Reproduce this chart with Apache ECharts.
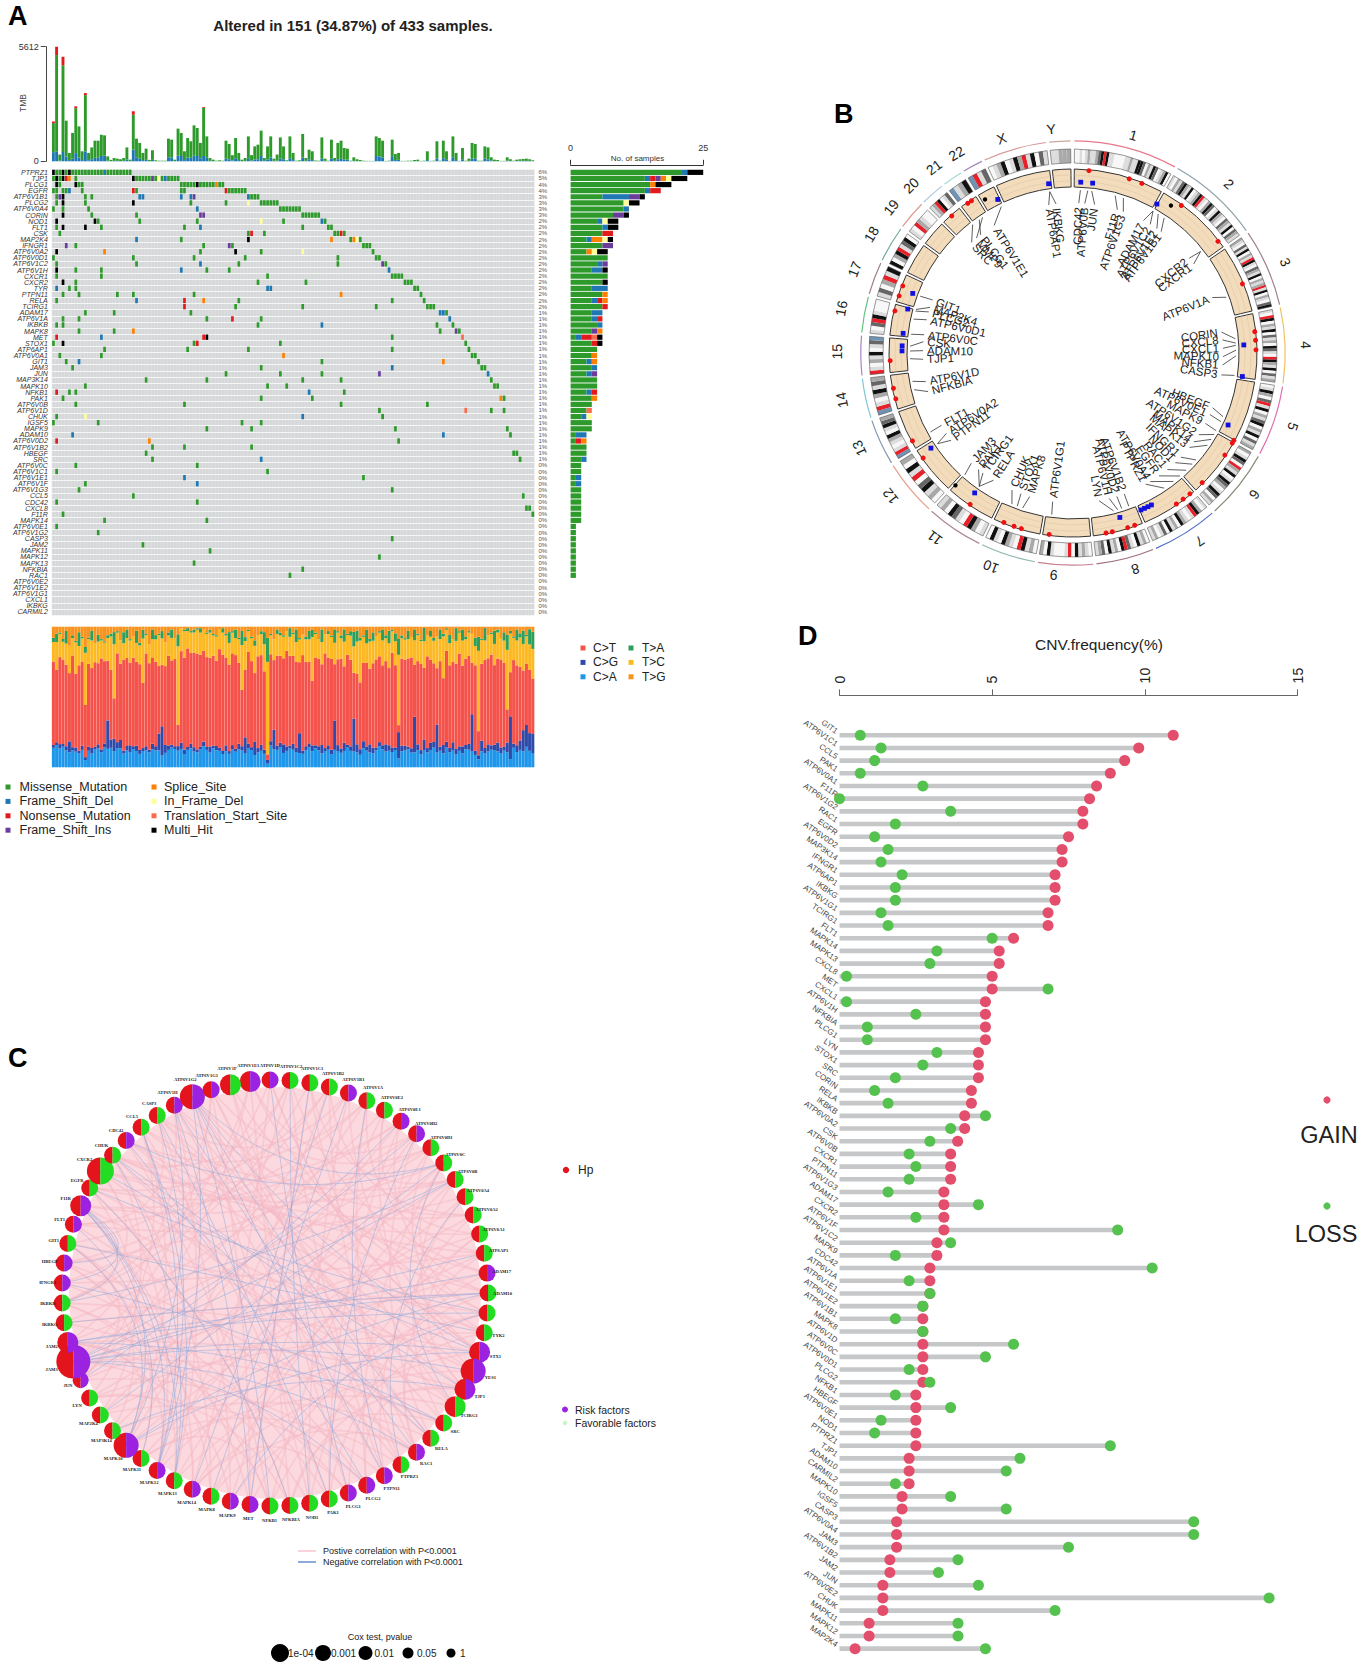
<!DOCTYPE html>
<html>
<head>
<meta charset="utf-8">
<title>Figure</title>
<script src="https://cdn.jsdelivr.net/npm/echarts@6/dist/echarts.min.js"></script>
<style>html,body{margin:0;padding:0;background:#fff}#main{width:1362px;height:1662px}</style>
</head>
<body>
<div id="main"></div>
<script>
// ---------- panel A data ----------
var mutTypes = ['M', 'D', 'N', 'I', 'S', 'F', 'T', 'H'];
var mutNames = ['Missense_Mutation', 'Frame_Shift_Del', 'Nonsense_Mutation', 'Frame_Shift_Ins', 'Splice_Site', 'In_Frame_Del', 'Translation_Start_Site', 'Multi_Hit'];
var mutColors = ['#2f9a2c', '#1f78b4', '#e31a1c', '#6a3d9a', '#ff7f00', '#ffff99', '#fb6a4a', '#000000'];

var tmbTotal = [1870,5200,330,4700,1990,410,1390,2600,1710,490,
  3240,410,680,1010,1010,1300,1270,240,70,160,
  130,100,160,680,80,2280,1110,900,410,620,
  70,540,50,30,30,30,1110,1060,80,1600,
  1390,490,1140,980,1760,1630,900,2610,1220,160,
  80,30,50,30,1010,850,300,1140,410,80,
  160,1220,300,730,815,1500,160,730,1220,130,
  330,1170,730,50,1220,410,30,50,1340,160,
  570,490,40,30,1170,130,30,1060,160,900,
  1010,650,620,30,195,100,65,30,20,20,
  20,1220,1140,1010,20,30,1060,360,410,20,
  20,30,30,65,80,20,30,490,20,30,
  980,30,1010,490,20,1220,410,20,650,30,
  130,900,850,30,30,730,680,195,80,65,
  20,20,195,100,30,80,100,115,130,100,
  50];
var tmbBlue = [450,490,30,450,240,60,130,400,180,60,
  490,50,100,170,170,260,280,30,5,20,
  20,10,20,90,10,570,200,130,60,70,
  5,70,5,5,5,5,200,180,10,280,
  260,60,180,170,290,260,150,260,170,20,
  10,5,5,5,130,100,40,150,60,10,
  20,150,40,90,100,260,20,90,190,20,
  40,130,100,5,150,60,5,5,190,20,
  100,60,5,5,130,20,5,130,20,100,
  120,80,80,5,20,10,10,5,5,5,
  5,260,240,190,5,5,250,60,70,5,
  5,5,5,10,10,5,5,60,5,5,
  130,5,150,70,5,200,60,5,100,5,
  20,130,130,5,5,130,100,30,10,10,
  5,5,30,20,5,10,20,20,20,20,
  10];
var tmbTipCols = [0, 1, 3, 7, 10, 25, 47];
var tmbTipVals = [80, 410, 420, 90, 100, 170, 40];

var oncoGenes = ['PTPRZ1','TJP1','PLCG1','EGFR','ATP6V1B1','PLCG2','ATP6V0A4','CORIN','NOD1','FLT1','CSK','MAP2K4','IFNGR1','ATP6V0A2','ATP6V0D1','ATP6V1C2','ATP6V1H','CXCR1','CXCR2','TYR','PTPN11','RELA','TCIRG1','ADAM17','ATP6V1A','IKBKB','MAPK8','MET','STOX1','ATP6AP1','ATP6V0A1','GIT1','JAM3','JUN','MAP3K14','MAPK10','NFKB1','PAK1','ATP6V0B','ATP6V1D','CHUK','IGSF5','MAPK9','ADAM10','ATP6V0D2','ATP6V1B2','HBEGF','SRC','ATP6V0C','ATP6V1C1','ATP6V1E1','ATP6V1F','ATP6V1G3','CCL5','CDC42','CXCL8','F11R','MAPK14','ATP6V0E1','ATP6V1G2','CASP3','JAM2','MAPK11','MAPK12','MAPK13','NFKBIA','RAC1','ATP6V0E2','ATP6V1E2','ATP6V1G1','CXCL1','IKBKG','CARMIL2'];
var oncoMarks = [
  '0H 1-2M 3H 4M 5H 6-15M 16D 17-24M',
  '0M 1H 2M 3H 4N 5S 7M 25H 26M 27-30M 31I 32M 33F 34M 35D 36-39M',
  '1H 2M 7H 8M 9M 40-44M 45H 46-50M 51S 52-53M',
  '0-1M 3-4M 5D 9M 25N 26M 40-41M 54N 55-60M',
  '1M 2I 3H 10M 12M 27-28D 40D 43D 44I 61D 62-64M',
  '1M 3H 10M 25H 43M 54M 61F 65-70M',
  '0M 3M 11M 45D 71-77M',
  '3H 12M 26M 46-47I 78-83M',
  '1H 13H 14M 27M 45M 65F 72M 84D 85M',
  '1M 3H 10H 15M 41M 46D 78M 86-87M',
  '2M 61M 62N 66M 88-89M 90N 91M',
  '26D 40M 61H 87S 93M 94S 95F 96M',
  '4I 7M 47M 55I 56M 97-99M',
  '1H 16S 46M 57H 65M 78F 100M',
  '0M 25M 44M 60M 89M 101-102M',
  '1M 26M 46D 58M 89M 103I 104M',
  '1H 7M 15M 40D 48M 55M 105D',
  '1M 15M 67M 106-109M',
  '3H 7M 64M 79M 110-112M',
  '1D 5M 7M 67-68D 113-114M',
  '3M 8M 20M 25M 44M 90S 115M',
  '1M 26D 41N 47S 58M 106M 116M',
  '41N 57M 78M 101M 117-119M',
  '10M 19M 43M 121-122D 123M',
  '3M 8M 48M 56N 65M 124D',
  '1M 3M 64M 84D 120M 125M',
  '8M 19M 25S 121M 126I 127M',
  '1N 15D 47N 48H 106M 128T',
  '0M 3H 44M 45N 71M 129M',
  '16M 42M 61M 106M 130M',
  '2M 15M 72S 131-132M',
  '4M 8D 84M 122S 133M',
  '6M 65M 106D 134-135M',
  '54M 71M 84M 102I 136D',
  '29M 48M 78M 90M 137M',
  '10M 67M 73M 138-139M',
  '1N 5M 7M 80D 91M',
  '3M 65M 81M 140S 141M',
  '7M 41M 90M 117M',
  '102M 129T 137M 141M',
  '1M 10F 78D 103M',
  '0M 14M 59M 65M',
  '48M 62M 107M 142M',
  '6D 122D 143M',
  '1N 30S 108M',
  '31M 41M 62M',
  '29M 144-145M',
  '31M 65D 146M',
  '7M 45M',
  '1M 67M',
  '41D 97M',
  '10M 45D',
  '8M 106M',
  '25M 147M',
  '1M 45M',
  '148-149M',
  '3M 150M',
  '16M 48M',
  '1M',
  '14M',
  '106M',
  '28M',
  '49M',
  '102M',
  '44M',
  '78M',
  '74M',
  '', '', '', '', '', ''
];
var oncoPct = ['6%','5%','4%','4%','3%','3%','3%','3%','2%','2%','2%','2%','2%','2%','2%','2%','2%','2%','2%','2%','2%','2%','2%','1%','1%','1%','1%','1%','1%','1%','1%','1%','1%','1%','1%','1%','1%','1%','1%','1%','1%','1%','1%','1%','1%','1%','1%','1%','0%','0%','0%','0%','0%','0%','0%','0%','0%','0%','0%','0%','0%','0%','0%','0%','0%','0%','0%','0%','0%','0%','0%','0%','0%'];

var specNames = ['C>A', 'C>G', 'C>T', 'T>C', 'T>A', 'T>G'];
var specColors = ['#1e96ea', '#2f4aa8', '#f4524a', '#fdb924', '#2e9e5b', '#f7931e'];
var specCA = [14,16,13,15,12,11,12,11,10,12,
  5,12,10,13,14,11,15,13,14,12,
  13,14,10,12,11,13,12,10,11,12,
  11,13,12,12,8,11,12,14,13,11,
  12,9,12,13,11,10,12,14,12,10,
  13,12,11,9,11,10,12,11,13,12,
  11,13,12,9,10,11,10,2,15,13,
  12,14,10,11,13,12,11,10,9,12,
  14,11,13,12,10,11,12,9,13,11,
  10,12,14,11,12,11,9,13,12,11,
  10,12,14,13,11,12,10,13,5,11,
  12,13,10,11,12,9,13,10,12,14,
  11,12,10,13,11,12,9,11,10,13,
  12,11,9,4,12,10,11,12,13,11,
  10,12,9,6,14,11,13,12,15,13,
  11];
var specCG = [2,2,3,2,3,8,2,3,2,3,
  2,3,4,2,3,2,3,20,6,9,
  4,6,2,3,5,2,4,3,2,3,
  2,4,3,12,20,6,3,2,2,3,
  4,3,2,3,3,2,2,3,2,4,
  2,3,2,2,4,2,3,2,4,3,
  12,3,2,10,3,4,3,2,3,14,
  3,3,6,3,2,4,3,14,2,3,
  3,4,2,3,6,2,3,3,22,4,
  3,6,2,3,25,6,4,5,3,6,
  4,2,3,3,5,4,3,2,15,4,
  3,2,3,26,4,3,8,3,5,4,
  21,3,6,4,3,6,4,3,5,3,
  4,26,3,2,8,4,5,3,4,6,
  4,3,6,31,3,5,7,16,16,14,
  16];
var specCT = [60,52,60,62,58,50,64,52,62,58,
  36,60,58,62,60,66,62,42,50,30,
  60,56,66,62,60,63,62,64,44,66,
  64,62,60,48,42,60,62,60,62,14,
  60,62,68,62,66,64,62,60,62,60,
  62,60,66,65,60,64,62,66,58,40,
  52,62,60,50,62,60,58,3,60,50,
  62,60,60,64,62,60,62,50,64,60,
  58,44,60,62,58,64,60,62,42,58,
  62,56,64,58,35,52,48,54,60,56,
  60,62,58,58,58,56,62,62,4,60,
  60,64,62,38,58,60,54,62,58,56,
  42,62,48,60,60,58,60,62,58,62,
  60,36,62,12,58,64,60,62,60,58,
  62,60,20,32,60,58,55,45,45,50,
  45];
var specTC = [14,20,16,13,15,20,12,22,14,16,
  36,18,20,14,16,13,14,16,24,40,
  14,17,12,14,16,15,14,14,30,13,
  14,13,16,22,18,18,14,16,15,52,
  15,18,12,14,14,16,15,14,16,17,
  14,17,13,15,15,16,14,12,17,32,
  22,14,16,20,14,14,20,50,13,15,
  15,14,15,13,13,15,14,16,14,16,
  16,30,16,14,16,13,16,15,16,18,
  14,18,14,16,20,24,30,18,14,20,
  16,16,16,18,16,18,14,18,40,14,
  14,14,14,18,18,16,20,14,16,16,
  24,16,30,14,16,16,16,14,18,14,
  16,20,14,40,18,14,16,14,16,18,
  15,16,36,28,16,18,22,20,20,20,
  24];
var specTA = [3,6,1,2,9,0,2,1,10,1,
  4,1,7,0,5,1,1,2,2,9,
  1,0,8,6,1,0,9,2,6,1,
  0,7,3,1,5,0,2,6,0,8,
  0,1,2,1,2,1,3,0,1,2,
  1,1,0,3,1,8,1,6,1,10,
  3,1,1,4,0,2,9,13,1,0,
  3,2,1,0,6,1,9,1,0,2,
  6,5,1,0,9,0,2,1,10,1,
  2,9,1,3,11,8,2,1,10,2,
  6,0,1,8,2,9,1,6,9,2,
  1,6,0,8,1,1,10,0,4,2,
  0,7,2,1,6,0,9,1,8,2,
  1,0,6,7,1,9,0,1,10,2,
  0,6,9,2,1,8,3,10,1,12,
  14];
var specTG = [8,5,4,9,3,14,6,10,4,7,
  14,8,3,12,6,9,11,6,5,4,
  3,10,4,2,9,7,3,12,2,5,
  13,2,6,5,3,12,4,2,8,5,
  1,2,1,3,2,1,1,2,4,2,
  5,6,2,1,5,4,3,2,8,3,
  8,2,7,10,6,3,4,6,5,9,
  2,4,6,3,1,4,2,8,5,7,
  3,2,4,9,2,5,3,6,2,3,
  6,2,5,3,4,3,8,6,2,9,
  4,7,3,2,6,3,2,5,7,6,
  8,3,7,2,5,9,1,6,3,8,
  7,2,5,1,6,9,1,3,2,7,
  3,5,8,5,9,1,6,4,3,2,
  8,4,5,3,7,2,5,3,6,2,
  4];

// ---------- panel B data ----------
var chrNames = ['1','2','3','4','5','6','7','8','9','10','11','12','13','14','15','16','17','18','19','20','21','22','X','Y'];
var chrSpan = [28.3,25.2,21.2,20.6,19.2,19,18,15.8,15,15,15.6,15.3,12.6,10.8,10.8,9.8,8.9,9.8,7.9,6.5,5.5,5.5,17.3,5.8];
var chrLabelAngle = [15.5,42.7,66.8,88,108.5,127.9,146,163.9,185,201,216.8,231.9,246,258.5,270.3,280.9,291,300.5,308.7,316,323.2,329.7,341.6,354.4];
var chrLabelDist = [226,230,231,233,232,230,227,225,223,229,231,232,234,236,236,236,234,234,233,233,232,231,226,225];
var chrArcColors = ['#e8798c','#8ea0a8','#a08090','#f0c060','#e070b0','#8a8f78','#5070c8','#a07080','#c88090','#90b8b0','#b08898','#e8a090','#8098b0','#80c8d8','#b080c0','#60c080','#a08080','#70a8a0','#e09a90','#a8c8e0','#a8d8d8','#a088b8','#d89898','#c8a8a0'];
var chrBands = [
  '00101211234r4110000112114430214301240',
  '1021342140124r1024301421032140321',
  '210314021r41032140212r14021034',
  '10r40214031204310r42140312',
  '014203r140213402140312',
  '201430r214014320143021',
  '1024r101240214031021',
  '0214013r402140321',
  '012140r10001402',
  '0214r01240140',
  '1024r0134021',
  '021430r1402',
  'br1012401432',
  'br1024132',
  'r10214013b',
  '103r41000',
  '1302r14',
  '4024r1340',
  '10r2100',
  '12r4013',
  'b124',
  'br13',
  '01240142r14031',
  '11222'
];
var markRed = [5,17.9,22.1,36.3,52.4,67.8,83.3,86,89,118.5,119.5,123.9,135.1,140.3,143,145.6,160.3,162.6,167.6,169.6,187.5,196.4,198.8,202.2,214.2,235,241.3,255.5,258.9,267.6,283.3,288.2,291.5,318.5,324.9,326.3];
var markBlue = [2.6,6.6,29.4,87.3,97.9,114.9,152.7,154,155.3,156.6,164.1,215.1,236.2,276.6,272.4,270.7,284.9,290.4,333.9,351.8];
var markBlack = [33.6,221.6,330.2];
var geneLabelNames = ['CDC42','ATP6V0B','JUN','F11R','ATP6V1G3','ADAM17','ATP6V1C2','ATP6V1E2','ATP6V1B1','CXCR2','CXCR1','ATP6V1A','CORIN','CXCL8','CXCL1','MAPK10','NFKB1','CASP3','HBEGF','ATP6V0E1','MAPK9','ATP6V1G2','MAPK14','MAPK13','IFNGR1','NOD1','RAC1','EGFR','ATP6V0A4','PTPRZ1','ATP6V1B2','ATP6V0D2','ATP6V1H','LYN','ATP6V1G1','MAPK8','STOX1','CHUK','RELA','TCIRG1','PAK1','JAM3','PTPN11','ATP6V0A2','FLT1','NFKBIA','ATP6V1D','TJP1','ADAM10','CSK','ATP6V0C','ATP6V0D1','PLCG2','MAP2K4','GIT1','SRC','PLCG1','MMP9','ATP6V1E1','ATP6AP1','IKBKG'];
var geneLabelAngle = [2.2,4.5,8.3,17.2,19.6,28,31,34,36,50.8,53.6,68.3,82,85,88.2,91.4,94.6,98.4,111.4,114.2,118,123,126.3,129,134,137,141,145,149,151,160,163,166,170,187.8,196.8,200.3,204,212,216.9,219,222.7,234.4,237.6,241.2,255.1,259,267.6,270.9,274.3,277,282.8,285.9,287.7,290.7,317.5,322,320,328.3,350.7,353.5];
var geneLabelRing = [2.6,5.2,6.6,15,18,29.4,29.4,31.5,34,51.5,51.5,70,85,86.5,87.3,89,91,97.9,113,114.9,118.5,120,122,124.5,131,133,136,139,142,146,160,162.6,164.1,165.6,187.5,198,200,202,215.1,215.1,215.1,221.6,236.2,236.2,241,257,260,268,270.7,272.4,276.6,282,284.9,285.5,290.4,322,324.9,326.3,333.9,351.8,351.8];

// ---------- panel C data ----------
var netNames = ['ATP6V1E1','ATP6V1D','ATP6V1C2','ATP6V1C1','ATP6V1B2','ATP6V1B1','ATP6V1A','ATP6V0E2','ATP6V0E1','ATP6V0D2','ATP6V0D1','ATP6V0C','ATP6V0B','ATP6V0A4','ATP6V0A2','ATP6V0A1','ATP6AP1','ADAM17','ADAM10','','TYK2','STX1','YES1','TJP1','TCIRG1','SRC','RELA','RAC1','PTPRZ1','PTPN11','PLCG2','PLCG1','PAK1','NOD1','NFKBIA','NFKB1','MET','MAPK9','MAPK8','MAPK14','MAPK13','MAPK12','MAPK11','MAPK10','MAP3K14','MAP2K4','LYN','JUN','JAM3','JAM2','IKBKG','IKBKB','IFNGR1','HBEGF','GIT1','FLT1','F11R','EGFR','CXCR2','CHUK','CDC42','CCL5','CASP3','ATP6V1H','ATP6V1G2','ATP6V1G1','ATP6V1F'];
// 1 = risk factor half, 0 = favorable half
var netRisk = [1,1,0,0,0,1,0,0,1,1,0,0,0,0,0,0,0,1,0,0,0,1,1,1,0,0,0,1,0,1,1,1,0,0,0,0,1,1,0,1,0,1,0,1,0,0,0,1,1,1,0,0,1,1,0,1,1,0,0,0,1,0,0,1,1,1,0];
var netSize = [10.5,8.5,8.5,8.5,8.5,8.5,8.5,8.5,8.5,8.5,8.5,8.5,8.5,8.5,8.5,8.5,8.5,8.5,8.5,8.5,8.5,10.5,12.5,10.5,10.5,8.5,8.5,8.5,8.5,8.5,8.5,8.5,8.5,8.5,8.5,8.5,8.5,8.5,8.5,8.5,8.5,8.5,8.5,12.5,8.5,8.5,8.5,8,17,10.5,8.5,8.5,8.5,8.5,8.5,8.5,10.5,8.5,13.5,8.5,8.5,8.5,8.5,8.5,12.5,8.5,10.5];
var netNegEdges = [[65,30],[65,27],[65,36],[65,42],[65,22],[65,12],[49,22],[49,23],[49,28],[49,31],[49,13],[49,17],[49,10],[50,20],[50,26],[51,19],[52,57],[53,57],[54,57],[55,44],[56,43],[57,44],[57,42],[57,41],[58,20],[59,22],[60,27],[61,12],[62,41],[63,42],[64,37],[44,64],[44,19],[44,22],[45,24],[42,62],[41,60],[12,25],[12,46],[13,52],[2,32],[3,34],[5,40],[7,30],[9,48],[10,33],[14,29],[18,49],[19,50],[20,38],[21,55],[24,60],[26,53],[28,64],[31,61],[33,63],[35,58],[37,4],[39,6]];
var netPosEdges = [[1,20],[1,35],[1,48],[2,22],[2,40],[2,55],[3,18],[3,30],[3,44],[3,60],[4,25],[4,37],[4,52],[5,15],[5,28],[5,42],[5,58],[6,22],[6,34],[6,49],[6,63],[7,17],[7,29],[7,46],[7,61],[8,24],[8,38],[8,51],[9,19],[9,33],[9,45],[9,59],[10,27],[10,41],[10,54],[11,21],[11,36],[11,50],[11,66],[12,31],[12,43],[12,57],[13,23],[13,39],[13,47],[13,62],[14,26],[14,40],[14,56],[15,30],[15,44],[15,64],[16,34],[16,48],[16,60],[17,28],[17,42],[17,53],[18,32],[18,46],[18,65],[19,37],[19,51],[19,67],[20,41],[20,55],[21,33],[21,47],[21,61],[22,36],[22,52],[22,2],[23,40],[23,58],[24,35],[24,50],[24,63],[25,43],[25,57],[26,38],[26,49],[26,66],[27,45],[27,59],[28,39],[28,54],[29,44],[29,60],[30,48],[30,64],[31,46],[31,56],[32,51],[32,67],[33,53],[33,62],[34,50],[34,65],[35,47],[35,58],[36,52],[36,61],[37,55],[37,66],[38,49],[38,63],[39,54],[39,60],[40,57],[41,52],[41,64],[42,50],[42,59],[43,55],[44,62],[45,54],[46,58],[47,60],[48,62],[49,66],[50,64],[52,1],[53,3],[54,5],[56,7],[57,9],[58,11],[59,13],[60,15],[61,17],[62,19],[63,21],[64,23],[65,25],[66,27],[67,29],[1,10],[4,13],[8,16],[12,20],[16,24],[20,28],[24,31],[28,35],[32,40],[36,43],[40,47],[44,50],[48,55],[52,59],[56,63],[60,66]];

// ---------- panel D data ----------
var cnvGenes = ['GIT1','ATP6V1C1','CCL5','PAK1','ATP6V0A1','F11R','ATP6V1G2','RAC1','EGFR','ATP6V0D2','MAP3K14','IFNGR1','ATP6AP1','IKBKG','ATP6V1G1','TCIRG1','FLT1','MAPK14','MAPK13','CXCL8','MET','CXCL1','ATP6V1H','NFKBIA','PLCG1','LYN','STOX1','SRC','CORIN','RELA','IKBKB','ATP6V0A2','CSK','ATP6V0B','CXCR1','PTPN11','ATP6V1G3','ADAM17','CXCR2','ATP6V1F','ATP6V1C2','MAPK9','CDC42','ATP6V1A','ATP6V1E1','ATP6V1E2','ATP6V1B1','MAPK8','ATP6V1D','ATP6V0C','ATP6V0D1','PLCG2','NFKB1','HBEGF','ATP6V0E1','NOD1','PTPRZ1','TJP1','ADAM10','CARMIL2','MAPK10','IGSF5','CASP3','ATP6V0A4','JAM3','ATP6V1B2','JAM2','JUN','ATP6V0E2','CHUK','MAPK11','MAPK12','MAP2K4'];
var cnvGain = [10.93,9.8,9.34,8.87,8.42,8.19,7.97,7.97,7.5,7.29,7.29,7.06,7.06,7.06,6.83,6.83,5.7,5.23,5.23,5,5,4.78,4.78,4.78,4.78,4.55,4.55,4.55,4.32,4.32,4.1,4.1,3.87,3.64,3.64,3.64,3.42,3.42,3.42,3.42,3.19,3.19,2.96,2.96,2.96,2.73,2.73,2.73,2.73,2.73,2.73,2.73,2.5,2.5,2.5,2.5,2.5,2.28,2.28,2.28,2.05,2.05,1.87,1.87,1.87,1.65,1.65,1.42,1.42,1.42,0.97,0.97,0.51];
var cnvLoss = [0.68,1.36,1.15,0.68,2.73,0,3.64,1.83,1.15,1.59,1.36,2.05,1.83,1.83,1.36,1.59,5,3.19,2.96,0.23,6.83,0.23,2.5,0.91,0.91,3.19,2.73,1.83,1.15,1.59,4.78,3.64,2.96,2.28,2.5,2.28,1.59,4.55,2.5,9.11,3.64,1.83,10.24,2.28,2.96,2.73,1.83,2.73,5.7,4.78,2.28,2.96,1.83,3.64,1.36,1.15,8.87,5.91,5.46,1.83,3.64,5.46,11.6,11.6,7.5,3.88,3.24,4.55,14.07,7.06,3.88,3.88,4.78];

// ---------- helpers ----------
var FONT = '"Liberation Sans", Arial, sans-serif';
var sampleCount = 151;
var sampleIdx = tmbTotal.map(function (_, i) { return i; });

function parseMarks(str, row) {
  var out = [];
  str.split(' ').forEach(function (tok) {
    var m = tok.match(/^(\d+)(?:-(\d+))?([A-Z])$/);
    if (!m) return;
    var a = +m[1], b = m[2] ? +m[2] : a;
    for (var c = a; c <= b; c++) out.push([c, row, mutTypes.indexOf(m[3])]);
  });
  return out;
}
var allMarks = [];
oncoMarks.forEach(function (s, r) { allMarks = allMarks.concat(parseMarks(s, r)); });

function countByType(t) {
  var counts = oncoGenes.map(function () { return 0; });
  allMarks.forEach(function (m) { if (m[2] === t) counts[m[1]]++; });
  return counts;
}

var chrStart = [];
(function () {
  var a = 0.4;
  chrSpan.forEach(function (s) { chrStart.push(a); a += s + 0.85; });
})();

function canvasAngle(deg) { return (deg - 90) * Math.PI / 180; }
function polarDist(api, v) {
  var c = api.coord([0, 0]), p = api.coord([v, 0]);
  return Math.hypot(p[0] - c[0], p[1] - c[1]);
}
var bandFill = { '0': '#f7f7f7', '1': '#dcdcdc', '2': '#a9a9a9', '3': '#666666', '4': '#111111', 'r': '#e8202a', 'b': '#6f93b3' };

// ---------- render items ----------
function renderOnco(params, api) {
  var p = api.coord([api.value(0), api.value(1)]);
  var w = api.size([1, 0])[0], h = api.size([0, 1])[1];
  return { type: 'rect', shape: { x: p[0] + 0.3, y: p[1] - h / 2 + 0.4, width: w - 0.5, height: h - 0.8 }, style: { fill: mutColors[api.value(2)] } };
}

function renderChrom(params, api) {
  var i = params.dataIndex, a0 = chrStart[i], a1 = a0 + chrSpan[i];
  var c = api.coord([0, 0]);
  var sec = function (r0, r, s, e, style) {
    return { type: 'sector', shape: { cx: c[0], cy: c[1], r0: polarDist(api, r0), r: polarDist(api, r), startAngle: canvasAngle(s), endAngle: canvasAngle(e), clockwise: true }, style: style };
  };
  var kids = [];
  kids.push(sec(211.6, 212.8, a0, a1, { fill: chrArcColors[i] }));
  var bands = chrBands[i];
  for (var b = 0; b < bands.length; b++) {
    var s = a0 + (a1 - a0) * b / bands.length, e = a0 + (a1 - a0) * (b + 1) / bands.length;
    kids.push(sec(190, 204, s, e, { fill: bandFill[bands[b]] }));
  }
  kids.push(sec(190, 204, a0, a1, { fill: 'none', stroke: '#555', lineWidth: 0.6 }));
  kids.push(sec(166, 184, a0, a1, { fill: '#f3dcbc', stroke: '#333', lineWidth: 1 }));
  [172, 178].forEach(function (r) {
    kids.push({ type: 'arc', shape: { cx: c[0], cy: c[1], r: polarDist(api, r), startAngle: canvasAngle(a0), endAngle: canvasAngle(a1), clockwise: true }, style: { fill: 'none', stroke: '#d8c3a2', lineWidth: 0.5 } });
  });
  var la = chrLabelAngle[i], lp = api.coord([chrLabelDist[i], la]);
  kids.push({ type: 'text', x: lp[0], y: lp[1], rotation: -la * Math.PI / 180, style: { text: chrNames[i], x: 0, y: 0, align: 'center', verticalAlign: 'middle', fontSize: 14, fontFamily: FONT, fill: '#222' } });
  return { type: 'group', children: kids };
}

function renderGeneMark(params, api) {
  var p = api.coord([api.value(0), api.value(1)]), kind = api.value(2);
  if (kind === 1) return { type: 'rect', shape: { x: p[0] - 2.4, y: p[1] - 2.4, width: 4.8, height: 4.8 }, style: { fill: '#1010e0' } };
  return { type: 'circle', shape: { cx: p[0], cy: p[1], r: kind === 0 ? 2.5 : 2.2 }, style: { fill: kind === 0 ? '#ee1111' : '#000' } };
}

function renderGeneLabel(params, api) {
  var i = params.dataIndex, a = geneLabelAngle[i], ring = geneLabelRing[i];
  var p0 = api.coord([163, ring]), p1 = api.coord([150, a]), t = api.coord([146, a]);
  var right = a < 180;
  var rot = (right ? 90 - a : 270 - a) * Math.PI / 180;
  return { type: 'group', children: [
    { type: 'line', shape: { x1: p0[0], y1: p0[1], x2: p1[0], y2: p1[1] }, style: { stroke: '#333', lineWidth: 0.8 } },
    { type: 'text', x: t[0], y: t[1], rotation: rot, style: { text: geneLabelNames[i], x: 0, y: 0, align: right ? 'right' : 'left', verticalAlign: 'middle', fontSize: 11.5, fontFamily: FONT, fill: '#222' } }
  ] };
}

function renderEdge(params, api) {
  var a = api.coord([213, api.value(0) - 1]), b = api.coord([213, api.value(1) - 1]), c = api.coord([0, 0]);
  var mx = (a[0] + b[0]) / 2, my = (a[1] + b[1]) / 2;
  return { type: 'bezierCurve', shape: { x1: a[0], y1: a[1], x2: b[0], y2: b[1], cpx1: mx * 0.55 + c[0] * 0.45, cpy1: my * 0.55 + c[1] * 0.45 }, style: { fill: 'none', stroke: api.value(2) ? '#8aa6de' : '#f6bac6', lineWidth: api.value(2) ? 0.8 : 1.6, opacity: api.value(2) ? 0.6 : 0.5 } };
}

function renderDisc(params, api) {
  var c = api.coord([0, 0]);
  return { type: 'circle', shape: { cx: c[0], cy: c[1], r: polarDist(api, api.value(0)) }, style: { fill: '#fbd9de' } };
}

function renderNode(params, api) {
  var i = params.dataIndex, p = api.coord([213, i]), r = netSize[i];
  var half = function (s, e, fill) {
    return { type: 'sector', shape: { cx: p[0], cy: p[1], r0: 0, r: r, startAngle: s, endAngle: e, clockwise: true }, style: { fill: fill } };
  };
  var lp = api.coord([213 + r + 6, i]);
  return { type: 'group', children: [
    half(Math.PI / 2, Math.PI * 1.5, '#e3141c'),
    half(-Math.PI / 2, Math.PI / 2, netRisk[i] ? '#9a22e0' : '#22dd22'),
    { type: 'text', x: lp[0], y: lp[1], style: { text: netNames[i], x: 0, y: 0, align: 'center', verticalAlign: 'middle', fontSize: 4.6, fontWeight: 'bold', fontFamily: '"Liberation Serif", serif', fill: '#222' } }
  ] };
}

// ---------- free text and legends ----------
function txt(x, y, s, size, opt) {
  opt = opt || {};
  return { type: 'text', x: x, y: y, rotation: opt.rot || 0, silent: true, z: 20, style: { text: s, x: 0, y: 0, fontSize: size, fontFamily: FONT, fontWeight: opt.bold ? 'bold' : 'normal', fill: opt.color || '#222', align: opt.align || 'left', verticalAlign: 'middle' } };
}
function sq(x, y, s, color) {
  return { type: 'rect', silent: true, z: 20, shape: { x: x - s / 2, y: y - s / 2, width: s, height: s }, style: { fill: color } };
}
function dot(x, y, r, color) {
  return { type: 'circle', silent: true, z: 20, shape: { cx: x, cy: y, r: r }, style: { fill: color } };
}
function hline(x1, x2, y, color, w) {
  return { type: 'line', silent: true, z: 20, shape: { x1: x1, y1: y, x2: x2, y2: y }, style: { stroke: color, lineWidth: w } };
}

var gfx = [
  txt(8, 16, 'A', 27, { bold: true, color: '#000' }),
  txt(834, 114, 'B', 27, { bold: true, color: '#000' }),
  txt(8, 1058, 'C', 27, { bold: true, color: '#000' }),
  txt(798, 636, 'D', 27, { bold: true, color: '#000' }),
  txt(353, 25, 'Altered in 151 (34.87%) of 433 samples.', 15, { bold: true, align: 'center' }),
  txt(23, 103, 'TMB', 8.5, { rot: Math.PI / 2, align: 'center', color: '#444' }),
  txt(637.5, 158, 'No. of samples', 8, { align: 'center', color: '#333' }),
  txt(1099, 644, 'CNV.frequency(%)', 15.5, { align: 'center' }),
  dot(1327, 1100, 3.6, '#e24e6b'),
  txt(1329, 1135, 'GAIN', 23.5, { align: 'center' }),
  dot(1327, 1206, 3.6, '#55c24f'),
  txt(1326, 1234, 'LOSS', 23.5, { align: 'center' }),
  dot(566, 1170, 3.2, '#e3141c'),
  txt(578, 1170, 'Hp', 12),
  dot(565, 1409.5, 3, '#9a22e0'),
  txt(575, 1409.5, 'Risk factors', 10.5),
  dot(565, 1423, 2.2, '#c8f5c8'),
  txt(575, 1423, 'Favorable factors', 10.5),
  hline(298, 316, 1551, '#f6b5c2', 1.2),
  txt(323, 1551, 'Postive correlation with P<0.0001', 9),
  hline(298, 316, 1562, '#5f86c8', 1.4),
  txt(323, 1562, 'Negative correlation with P<0.0001', 9),
  txt(380, 1637, 'Cox test, pvalue', 9, { align: 'center' })
];
var coxX = [280, 323, 365.5, 408, 451], coxR = [9, 8, 7, 5.5, 4.5], coxText = ['1e-04', '0.001', '0.01', '0.05', '1'];
coxX.forEach(function (x, i) {
  gfx.push(dot(x, 1653, coxR[i], '#000'));
  gfx.push(txt(x + (i < 2 ? 8 : 9), 1653, coxText[i], 10));
});
mutNames.forEach(function (n, i) {
  var col = i < 4 ? 0 : 1, row = i % 4;
  gfx.push(sq(col ? 154 : 8, 787 + row * 14.4, 5, mutColors[i]));
  gfx.push(txt(col ? 164 : 19.5, 787 + row * 14.4, n, 12.5));
});
['C>T', 'C>G', 'C>A', 'T>A', 'T>C', 'T>G'].forEach(function (n, i) {
  var col = i < 3 ? 0 : 1, row = i % 3;
  gfx.push(sq(col ? 631 : 583, 648 + row * 14.4, 5, specColors[specNames.indexOf(n)]));
  gfx.push(txt(col ? 642 : 593, 648 + row * 14.4, n, 12));
});

// ---------- option ----------
var specSum = sampleIdx.map(function (i) { return specCA[i] + specCG[i] + specCT[i] + specTC[i] + specTA[i] + specTG[i]; });
var specArrays = [specCA, specCG, specCT, specTC, specTA, specTG];

var series = [
  { type: 'bar', xAxisIndex: 0, yAxisIndex: 0, stack: 'tmb', barWidth: 2.9, data: tmbBlue, itemStyle: { color: '#1f78b4' }, silent: true },
  { type: 'bar', xAxisIndex: 0, yAxisIndex: 0, stack: 'tmb', barWidth: 2.9, data: sampleIdx.map(function (i) { return tmbTotal[i] - tmbBlue[i]; }), itemStyle: { color: '#2f9a2c' }, silent: true },
  { type: 'bar', xAxisIndex: 0, yAxisIndex: 0, stack: 'tmb', barWidth: 2.9, data: sampleIdx.map(function (i) { var k = tmbTipCols.indexOf(i); return k < 0 ? 0 : tmbTipVals[k]; }), itemStyle: { color: '#e31a1c' }, silent: true },
  { type: 'custom', xAxisIndex: 1, yAxisIndex: 1, data: allMarks, renderItem: renderOnco, encode: { x: 0, y: 1 }, silent: true }
];
mutTypes.forEach(function (t, k) {
  series.push({ type: 'bar', xAxisIndex: 2, yAxisIndex: 3, stack: 'count', barWidth: 5.2, data: countByType(k), itemStyle: { color: mutColors[k] }, silent: true });
});
specArrays.forEach(function (arr, k) {
  series.push({ type: 'bar', xAxisIndex: 3, yAxisIndex: 4, stack: 'spec', barCategoryGap: '4%', data: arr.map(function (v, i) { return v / specSum[i] * 100; }), itemStyle: { color: specColors[k] }, silent: true });
});
// panel B
series.push({ type: 'custom', coordinateSystem: 'polar', polarIndex: 0, data: chrNames.map(function (_, i) { return [200, chrStart[i]]; }), renderItem: renderChrom, silent: true });
var markData = markRed.map(function (a) { return [183, a, 0]; }).concat(markBlue.map(function (a) { return [171, a, 1]; }), markBlack.map(function (a) { return [177, a, 2]; }));
series.push({ type: 'custom', coordinateSystem: 'polar', polarIndex: 0, data: markData, renderItem: renderGeneMark, silent: true, z: 5 });
series.push({ type: 'custom', coordinateSystem: 'polar', polarIndex: 0, data: geneLabelNames.map(function (_, i) { return [150, geneLabelAngle[i]]; }), renderItem: renderGeneLabel, silent: true, z: 5 });
// panel C
series.push({ type: 'custom', coordinateSystem: 'polar', polarIndex: 1, data: [[206, 0]], renderItem: renderDisc, silent: true, z: 1 });
series.push({ type: 'custom', coordinateSystem: 'polar', polarIndex: 1, data: netPosEdges.map(function (e) { return [e[0], e[1], 0]; }), renderItem: renderEdge, silent: true, z: 2 });
series.push({ type: 'custom', coordinateSystem: 'polar', polarIndex: 1, data: netNegEdges.map(function (e) { return [e[0], e[1], 1]; }), renderItem: renderEdge, silent: true, z: 3 });
series.push({ type: 'custom', coordinateSystem: 'polar', polarIndex: 1, data: netNames.map(function (_, i) { return [213, i]; }), renderItem: renderNode, silent: true, z: 4 });
// panel D
series.push({ type: 'bar', xAxisIndex: 4, yAxisIndex: 5, barWidth: 4.6, data: cnvGain.map(function (v, i) { return Math.max(v, cnvLoss[i]); }), itemStyle: { color: '#c6c7c9' }, silent: true });
series.push({ type: 'scatter', xAxisIndex: 4, yAxisIndex: 5, symbolSize: 11, data: cnvGain.map(function (v, i) { return [v, i]; }), itemStyle: { color: '#e24e6b', opacity: 1 }, silent: true, z: 3 });
series.push({ type: 'scatter', xAxisIndex: 4, yAxisIndex: 5, symbolSize: 11, data: cnvLoss.map(function (v, i) { return [v, i]; }), itemStyle: { color: '#55c24f', opacity: 1 }, silent: true, z: 4 });

var option = {
  animation: false,
  backgroundColor: '#fff',
  textStyle: { fontFamily: FONT },
  graphic: gfx,
  grid: [
    { left: 51.8, width: 482.6, top: 46.7, height: 114.6 },
    { left: 51.8, width: 482.6, top: 169.3, height: 445.7, show: true, backgroundColor: '#d6d8d9', borderWidth: 0 },
    { left: 570.6, width: 132.6, top: 169.3, height: 445.7 },
    { left: 51.8, width: 482.6, top: 626.7, height: 140.6 },
    { left: 839.5, width: 458, top: 728.9, height: 926.1 }
  ],
  xAxis: [
    { gridIndex: 0, type: 'category', data: sampleIdx, show: false },
    { gridIndex: 1, type: 'value', min: 0, max: sampleCount, interval: 1, axisLine: { show: false }, axisTick: { show: false }, axisLabel: { show: false }, splitLine: { show: true, lineStyle: { color: 'rgba(255,255,255,0.3)', width: 0.5 } } },
    { gridIndex: 2, type: 'value', position: 'top', offset: 4.5, min: 0, max: 25, interval: 25, axisLine: { show: true, lineStyle: { color: '#333' } }, axisTick: { show: true, length: 5, lineStyle: { color: '#333' } }, axisLabel: { fontSize: 9, color: '#333', margin: 12 }, splitLine: { show: false } },
    { gridIndex: 3, type: 'category', data: sampleIdx, show: false },
    { gridIndex: 4, type: 'value', position: 'top', offset: 33.5, min: 0, max: 15, interval: 5, axisLine: { show: true, lineStyle: { color: '#666' } }, axisTick: { show: true, length: 6, lineStyle: { color: '#666' } }, axisLabel: { rotate: -90, fontSize: 14, color: '#222', margin: 12 }, splitLine: { show: false } }
  ],
  yAxis: [
    { gridIndex: 0, type: 'value', min: 0, max: 5612, interval: 5612, offset: 6, axisLine: { show: true, lineStyle: { color: '#444' } }, axisTick: { show: true, length: 5, lineStyle: { color: '#444' } }, axisLabel: { fontSize: 9, color: '#333', margin: 7, formatter: function (v) { return String(v); } }, splitLine: { show: false } },
    { gridIndex: 1, type: 'category', inverse: true, data: oncoGenes, axisLine: { show: false }, axisTick: { show: false }, axisLabel: { interval: 0, fontSize: 7, fontStyle: 'italic', color: '#333', margin: 4 }, splitLine: { show: true, interval: 0, lineStyle: { color: '#f4f5f5', width: 1 } } },
    { gridIndex: 1, type: 'category', inverse: true, position: 'right', data: oncoPct, axisLine: { show: false }, axisTick: { show: false }, axisLabel: { interval: 0, fontSize: 6, color: '#555', margin: 4 } },
    { gridIndex: 2, type: 'category', inverse: true, data: oncoGenes, show: false },
    { gridIndex: 3, type: 'value', min: 0, max: 100, show: false },
    { gridIndex: 4, type: 'category', inverse: true, data: cnvGenes, axisLine: { show: false }, axisTick: { show: false }, axisLabel: { interval: 0, rotate: -35, fontSize: 8, color: '#444', margin: 5, verticalAlign: 'bottom' } }
  ],
  polar: [
    { center: [1073, 353], radius: 240 },
    { center: [275, 1293], radius: 213 }
  ],
  angleAxis: [
    { polarIndex: 0, type: 'value', min: 0, max: 360, startAngle: 90, clockwise: true, show: false },
    { polarIndex: 1, type: 'value', min: 0, max: 67, startAngle: 96.7, clockwise: true, show: false }
  ],
  radiusAxis: [
    { polarIndex: 0, type: 'value', min: 0, max: 240, show: false },
    { polarIndex: 1, type: 'value', min: 0, max: 213, show: false }
  ],
  series: series
};

var chart = echarts.init(document.getElementById('main'), null, { renderer: 'svg' });
chart.setOption(option);
</script>
</body>
</html>
